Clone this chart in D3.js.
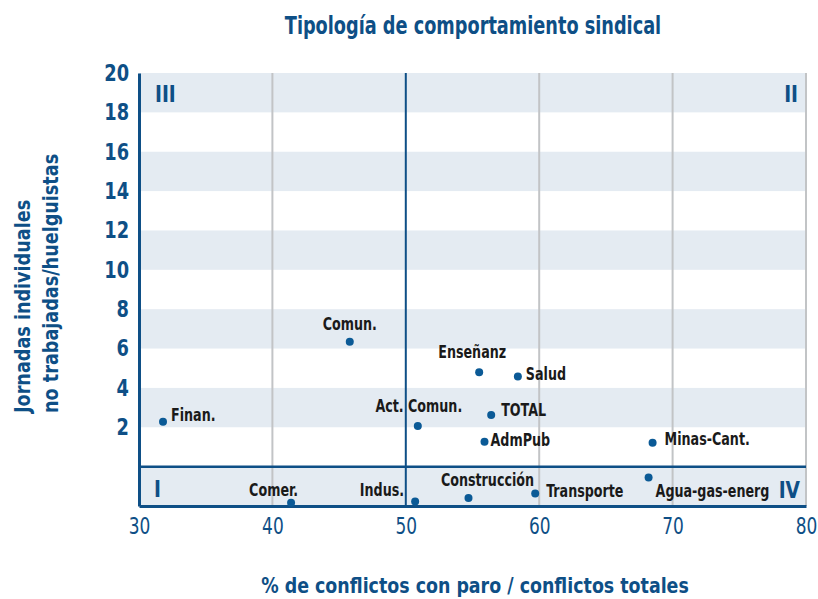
<!DOCTYPE html>
<html>
<head>
<meta charset="utf-8">
<script src="https://cdn.jsdelivr.net/npm/d3@7"></script>
<style>
  body { margin: 0; background: #fff; }
  svg text { font-family: "Liberation Sans Narrow", "DejaVu Sans Condensed", "Roboto Condensed", sans-serif; }
</style>
</head>
<body>
<div id="canvas" class="canvas"></div>
<script>
// ---- DATA ----
var sectors   = ['Finan.', 'Comun.', 'Act. Comun.', 'Enseñanz', 'Salud', 'TOTAL', 'AdmPub',
                 'Minas-Cant.', 'Agua-gas-energ', 'Transporte', 'Construcción', 'Indus.', 'Comer.'];
var pctParo   = [31.8, 45.8, 50.9, 55.5, 58.4, 56.4, 55.9, 68.5, 68.2, 59.7, 54.7, 50.7, 41.4];
var jornadas  = [2.28, 6.34, 2.06, 4.79, 4.58, 2.62, 1.26, 1.21, -0.55, -1.36, -1.59, -1.77, -1.84];
var xTicks    = [30, 40, 50, 60, 70, 80];
var yTicks    = [2, 4, 6, 8, 10, 12, 14, 16, 18, 20];
var bandStarts = [-2, 2, 6, 10, 14, 18];

// label offsets from dot: [dx, dy, anchor]
var labelPos = {
  'Finan.':         [8, -1, 'start'],
  'Comun.':         [0, -12, 'middle'],
  'Act. Comun.':    [1, -14, 'middle'],
  'Enseñanz':       [-7, -14, 'middle'],
  'Salud':          [8, 4, 'start'],
  'TOTAL':          [10, 1, 'start'],
  'AdmPub':         [6, 4, 'start'],
  'Minas-Cant.':    [12, 2, 'start'],
  'Agua-gas-energ': [7, 20, 'start'],
  'Transporte':     [11, 4, 'start'],
  'Construcción':   [19, -12, 'middle'],
  'Indus.':         [-11, -5, 'end'],
  'Comer.':         [7, -7, 'end']
};

var blue = '#0e4f86',
    dotBlue = '#0b5a96',
    band = '#e4ebf2',
    grid = '#c2c4c6';

// squeeze text horizontally (no condensed font installed)
function squeeze(sel, k) {
    sel.each(function(){
        var w = this.getComputedTextLength();
        d3.select(this).attr('textLength', w * k).attr('lengthAdjust', 'spacingAndGlyphs');
    });
}

// ---- CONVENTIONS ----
var margin = {top:73, right:12, bottom:93, left:139};
var outerWidth = 818, outerHeight = 599;
var width = outerWidth - margin.left - margin.right,
    height = outerHeight - margin.top - margin.bottom;

var svg = d3.select('.canvas')
    .append('svg')
    .attr('width', outerWidth)
    .attr('height', outerHeight);

var plot = svg.append('g')
    .attr('transform', 'translate(' + margin.left + ',' + margin.top + ')');

// ---- SCALES ----
var scaleX = d3.scaleLinear().domain([30, 80]).range([0, width]);
var scaleY = d3.scaleLinear().domain([-2, 20]).range([height, 0]);

// ---- BANDS + GRID ----
plot.selectAll('.band')
    .data(bandStarts)
    .enter().append('rect')
    .attr('class', 'band')
    .attr('x', 0)
    .attr('width', width)
    .attr('y', function(d){ return scaleY(d + 2); })
    .attr('height', function(d){ return scaleY(d) - scaleY(d + 2); })
    .style('fill', band);

plot.selectAll('.vgrid')
    .data(xTicks.filter(function(d){ return d !== 30 && d !== 50; }))
    .enter().append('line')
    .attr('class', 'vgrid')
    .attr('x1', scaleX).attr('x2', scaleX)
    .attr('y1', 0).attr('y2', height)
    .style('stroke', grid)
    .style('stroke-width', 2);

// quadrant lines
plot.append('line')
    .attr('x1', scaleX(50)).attr('x2', scaleX(50))
    .attr('y1', 0).attr('y2', height)
    .style('stroke', blue).style('stroke-width', 2);
plot.append('line')
    .attr('x1', 0).attr('x2', width)
    .attr('y1', scaleY(0)).attr('y2', scaleY(0))
    .style('stroke', blue).style('stroke-width', 2.5);

// ---- AXES ----
var axisX = d3.axisBottom(scaleX).tickValues(xTicks).tickSize(0).tickPadding(12);
var axisY = d3.axisLeft(scaleY).tickValues(yTicks).tickSize(0).tickPadding(10);

var gx = plot.append('g').attr('class', 'axis axis-x')
    .attr('transform', 'translate(0,' + height + ')')
    .call(axisX);
gx.select('.domain').style('stroke', blue).style('stroke-width', 3);
gx.selectAll('text')
    .style('fill', blue)
    .style('font-size', '23px')
    .attr('dy', '0.71em')
    .call(squeeze, 0.82);

var gy = plot.append('g').attr('class', 'axis axis-y')
    .call(axisY);
gy.select('.domain').style('stroke', blue).style('stroke-width', 3);
gy.selectAll('text')
    .style('fill', blue)
    .style('font-size', '23px')
    .style('font-weight', 'bold')
    .call(squeeze, 0.86);

// ---- POINTS ----
plot.selectAll('.dot')
    .data(sectors)
    .enter().append('circle')
    .attr('class', 'dot')
    .attr('cx', function(d, i){ return scaleX(pctParo[i]); })
    .attr('cy', function(d, i){ return scaleY(jornadas[i]); })
    .attr('r', 4)
    .style('fill', dotBlue);

plot.selectAll('.lbl')
    .data(sectors)
    .enter().append('text')
    .attr('class', 'lbl')
    .attr('x', function(d, i){ return scaleX(pctParo[i]) + labelPos[d][0]; })
    .attr('y', function(d, i){ return scaleY(jornadas[i]) + labelPos[d][1]; })
    .attr('text-anchor', function(d){ return labelPos[d][2]; })
    .style('font-size', '17px')
    .style('font-weight', 'bold')
    .style('fill', '#1a1a1a')
    .text(function(d){ return d; })
    .call(squeeze, 0.83);

// ---- QUADRANT LABELS ----
var quad = [
  {t:'III', x:scaleX(30) + 16, y:scaleY(20) + 29, a:'start'},
  {t:'II',  x:scaleX(80) - 8,  y:scaleY(20) + 29, a:'end'},
  {t:'I',   x:scaleX(30) + 15, y:scaleY(-2) - 9,  a:'start'},
  {t:'IV',  x:scaleX(80) - 6,  y:scaleY(-2) - 8,  a:'end'}
];
plot.selectAll('.quad')
    .data(quad)
    .enter().append('text')
    .attr('class', 'quad')
    .attr('x', function(d){ return d.x; })
    .attr('y', function(d){ return d.y; })
    .attr('text-anchor', function(d){ return d.a; })
    .style('font-size', '23px')
    .style('font-weight', 'bold')
    .style('fill', blue)
    .text(function(d){ return d.t; })
    .call(squeeze, 0.9);

// ---- TITLES ----
svg.append('text')
    .attr('x', 473).attr('y', 34)
    .attr('text-anchor', 'middle')
    .style('font-size', '24px').style('font-weight', 'bold').style('fill', blue)
    .text('Tipología de comportamiento sindical')
    .call(squeeze, 0.82);

svg.append('text')
    .attr('x', 475).attr('y', 593)
    .attr('text-anchor', 'middle')
    .style('font-size', '22px').style('font-weight', 'bold').style('fill', blue)
    .text('% de conflictos con paro / conflictos totales')
    .call(squeeze, 0.88);

var ylab = svg.append('text')
    .attr('transform', 'translate(30,413) rotate(-90)')
    .style('font-size', '22px').style('font-weight', 'bold').style('fill', blue);
ylab.append('tspan').attr('x', 0).attr('y', 0).text('Jornadas individuales');
ylab.append('tspan').attr('x', 0).attr('y', 28).text('no trabajadas/huelguistas');
ylab.selectAll('tspan').call(squeeze, 0.89);
</script>
</body>
</html>
